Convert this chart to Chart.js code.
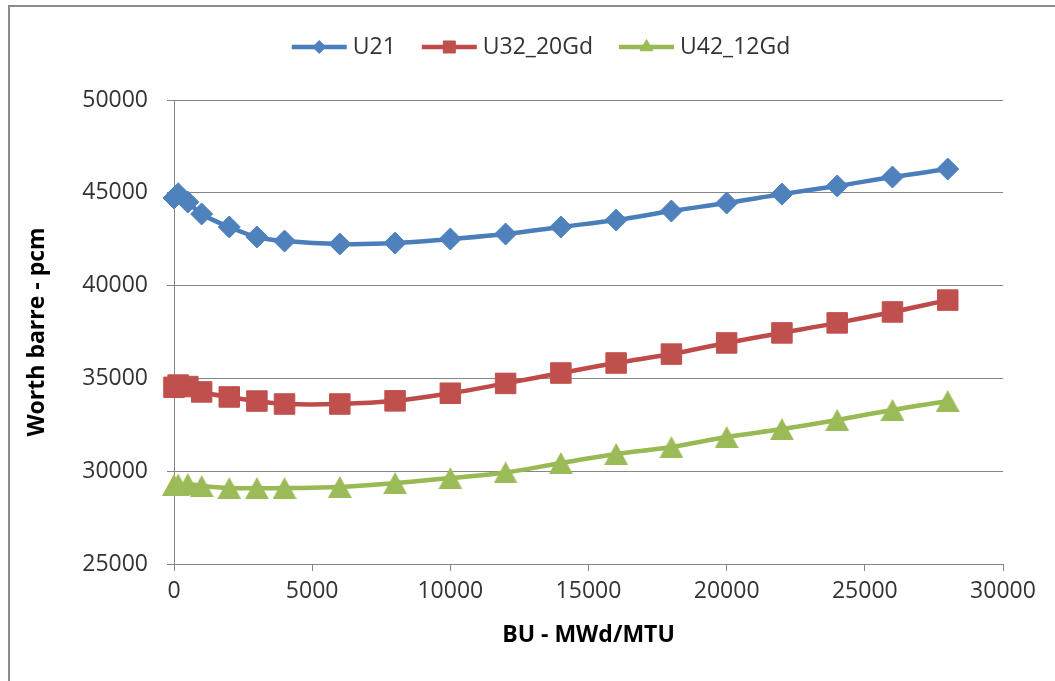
<!DOCTYPE html>
<html>
<head>
<meta charset="utf-8">
<title>Worth barre vs BU</title>
<script src="https://cdn.jsdelivr.net/npm/chart.js@4.4.1/dist/chart.umd.min.js"></script>
<style>
  html, body { margin: 0; padding: 0; background: #ffffff; overflow: hidden; }
  #frame {
    position: absolute; left: 8px; top: 5px; width: 1100px; height: 720px;
    border-left: 2px solid #8a8a8a; border-top: 2px solid #8a8a8a;
  }
  #wrap { position: absolute; left: 0; top: 0; width: 1055px; height: 681px; }
</style>
</head>
<body>
<div id="frame"></div>
<div id="wrap"><canvas id="chart" width="1055" height="681"></canvas></div>
<script>
// Burnup steps (MWd/MTU)
const burnup = [0, 150, 500, 1000, 2000, 3000, 4000, 6000, 8000, 10000, 12000,
                14000, 16000, 18000, 20000, 22000, 24000, 26000, 28000];

// Control rod worth (pcm) per fuel type
const u21 = [44720, 44950, 44500, 43860, 43160, 42620, 42400, 42240, 42290, 42510,
             42780, 43160, 43530, 44020, 44450, 44930, 45370, 45850, 46280];
const u32_20Gd = [34520, 34640, 34560, 34270, 34000, 33780, 33620, 33620, 33790, 34200,
                  34730, 35290, 35830, 36310, 36910, 37450, 37990, 38580, 39220];
const u42_12Gd = [29260, 29280, 29310, 29200, 29090, 29090, 29090, 29150, 29360, 29630,
                  29930, 30440, 30930, 31300, 31840, 32270, 32760, 33300, 33780];

const seriesLabels = ['U21', 'U32_20Gd', 'U42_12Gd'];

// Axis tick values
const xTicks = [0, 5000, 10000, 15000, 20000, 25000, 30000];
const yTicks = [25000, 30000, 35000, 40000, 45000, 50000];

const FONT = '"Open Sans", "Liberation Sans", sans-serif';
const AXIS_GREY = '#868686';
const TEXT = '#333333';

// Triangle marker whose bounding box is centred on the data point
function triangleSprite(w, h, color) {
  const c = document.createElement('canvas');
  c.width = w;
  c.height = h;
  const g = c.getContext('2d');
  g.fillStyle = color;
  g.beginPath();
  g.moveTo(w / 2, 0);
  g.lineTo(w, h);
  g.lineTo(0, h);
  g.closePath();
  g.fill();
  return c;
}

function points(ys) {
  return burnup.map((x, i) => ({ x: x, y: ys[i] }));
}

function series(label, ys, line, fill, style, radius, legendStyle, legendRadius) {
  return {
    label: label,
    data: points(ys),
    borderColor: line,
    borderWidth: 4.5,
    backgroundColor: fill,
    pointStyle: style,
    pointRadius: radius,
    pointBackgroundColor: fill,
    pointBorderColor: fill,
    pointBorderWidth: 1,
    legendStyle: legendStyle,
    legendRadius: legendRadius,
    tension: 0.4,
    clip: false
  };
}

// Legend drawn as a line segment with the series marker in its middle
const lineMarkerLegend = {
  id: 'lineMarkerLegend',
  afterDraw(chart) {
    const ctx = chart.ctx;
    const sets = chart.data.datasets;
    const lineLen = 55, textGap = 6, itemGap = 26, centerX = 541, y = 47;
    ctx.save();
    ctx.font = '23px ' + FONT;
    const widths = sets.map(ds => ctx.measureText(ds.label).width);
    const total = widths.reduce((s, w) => s + lineLen + textGap + w, 0) + itemGap * (sets.length - 1);
    let x = centerX - total / 2;
    sets.forEach((ds, i) => {
      ctx.strokeStyle = ds.borderColor;
      ctx.lineWidth = ds.borderWidth;
      ctx.lineCap = 'butt';
      ctx.beginPath();
      ctx.moveTo(x, y);
      ctx.lineTo(x + lineLen, y);
      ctx.stroke();
      ctx.fillStyle = ds.pointBackgroundColor;
      ctx.strokeStyle = ds.pointBorderColor;
      ctx.lineWidth = 1;
      Chart.helpers.drawPoint(ctx, { pointStyle: ds.legendStyle, radius: ds.legendRadius, rotation: 0, borderWidth: 1 },
        x + lineLen / 2, y);
      ctx.fillStyle = TEXT;
      ctx.textAlign = 'left';
      ctx.textBaseline = 'middle';
      ctx.fillText(ds.label, x + lineLen + textGap, y);
      x += lineLen + textGap + widths[i] + itemGap;
    });
    ctx.restore();
  }
};

new Chart(document.getElementById('chart'), {
  type: 'line',
  data: {
    datasets: [
      series(seriesLabels[0], u21, '#4A7EBB', '#4F81BD', 'rectRot', 11, 'rectRot', 6.5),
      series(seriesLabels[1], u32_20Gd, '#BE4B48', '#C0504D', 'rect', 14.5, 'rect', 8.5),
      series(seriesLabels[2], u42_12Gd, '#98B954', '#9BBB59', triangleSprite(24, 22, '#9BBB59'), 12, 'triangle', 7.5)
    ]
  },
  options: {
    responsive: false,
    animation: false,
    devicePixelRatio: 1,
    layout: { padding: { top: 100, right: 52, left: 0, bottom: 0 } },
    plugins: {
      legend: { display: false },
      tooltip: { enabled: false }
    },
    scales: {
      x: {
        type: 'linear',
        min: xTicks[0],
        max: xTicks[xTicks.length - 1],
        afterBuildTicks(scale) { scale.ticks = xTicks.map(v => ({ value: v })); },
        afterFit(scale) { scale.height = 117; },
        ticks: {
          callback: v => String(v),
          font: { family: FONT, size: 23 },
          color: TEXT,
          padding: 7,
          maxRotation: 0
        },
        grid: { drawOnChartArea: false, tickLength: 7, color: AXIS_GREY, lineWidth: 1 },
        border: { color: AXIS_GREY, width: 1 },
        title: {
          display: true,
          text: 'BU - MWd/MTU',
          color: '#000000',
          font: { family: FONT, size: 23, weight: 'bold' },
          padding: { top: 0, bottom: 32 }
        }
      },
      y: {
        type: 'linear',
        min: yTicks[0],
        max: yTicks[yTicks.length - 1],
        afterBuildTicks(scale) { scale.ticks = yTicks.map(v => ({ value: v })); },
        afterFit(scale) { scale.width = 174; },
        ticks: {
          callback: v => String(v),
          font: { family: FONT, size: 23 },
          color: TEXT,
          padding: 19
        },
        grid: { tickLength: 7, color: AXIS_GREY, lineWidth: 1 },
        border: { color: AXIS_GREY, width: 1 },
        title: {
          display: true,
          text: 'Worth barre - pcm',
          color: '#000000',
          font: { family: FONT, size: 23, weight: 'bold' },
          padding: { top: 24, bottom: 0 }
        }
      }
    }
  },
  plugins: [lineMarkerLegend]
});
</script>
</body>
</html>
